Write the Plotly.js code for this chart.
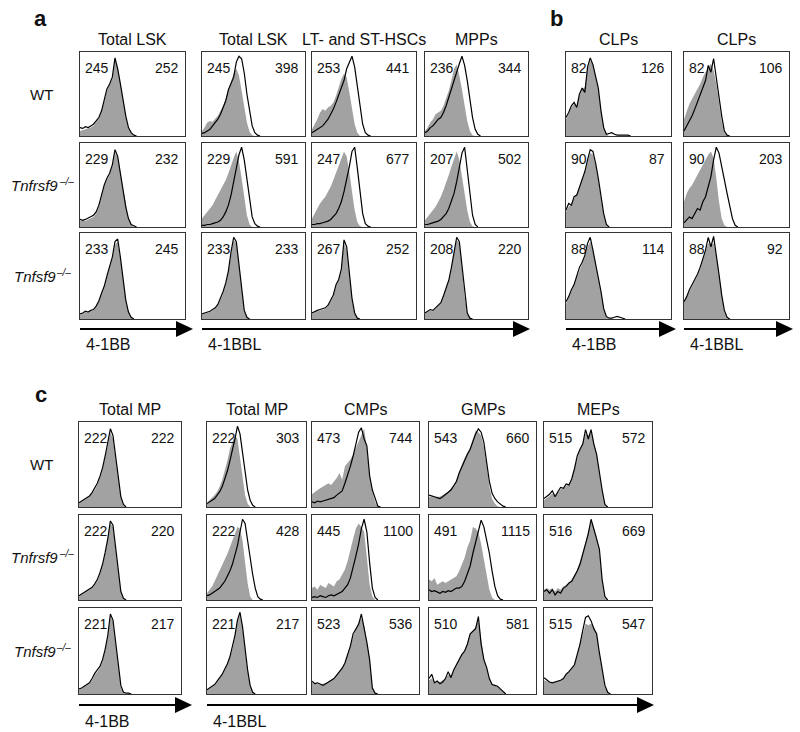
<!DOCTYPE html>
<html><head><meta charset="utf-8">
<script src="https://cdn.plot.ly/plotly-3.0.1.min.js"></script>
<style>html,body{margin:0;padding:0;background:#fff}#chart{width:800px;height:732px}</style>
</head><body><div id="chart"></div>
<script>
// ---------- categories / labels ----------
const rowLabels = ['WT', 'Tnfrsf9', 'Tnfsf9'];
const rowSuffix = ['', '–/–', '–/–'];
const rowItalic = [false, true, true];
const titlesA = ['Total LSK', 'Total LSK', 'LT- and ST-HSCs', 'MPPs'];
const titlesB = ['CLPs', 'CLPs'];
const titlesC = ['Total MP', 'Total MP', 'CMPs', 'GMPs', 'MEPs'];
const markerA = ['4-1BB', '4-1BBL'];
const markerB = ['4-1BB', '4-1BBL'];
const markerC = ['4-1BB', '4-1BBL'];

// ---------- MFI values (grey = control, black = stained) ----------
const mfiA_grey  = [[245,245,253,236],[229,229,247,207],[233,233,267,208]];
const mfiA_black = [[252,398,441,344],[232,591,677,502],[245,233,252,220]];
const mfiB_grey  = [[82,82],[90,90],[88,88]];
const mfiB_black = [[126,106],[87,203],[114,92]];
const mfiC_grey  = [[222,222,473,543,515],[222,222,445,491,516],[221,221,523,510,515]];
const mfiC_black = [[222,303,744,660,572],[220,428,1100,1115,669],[217,217,536,581,547]];

// ---------- histogram counts (% of max), one value per fluorescence bin ----------
// panel a
const a11g = [6,7,8,9,10,12,16,21,29,40,54,61,68,90,82,63,42,23,9,3,0];
const a11k = [10,9,11,10,12,14,18,22,30,42,56,62,70,93,80,62,42,24,10,4,1,0];
const a12g = [6,10,16,18,17,20,24,30,36,45,55,65,75,80,72,54,34,16,5,1,0];
const a12k = [3,4,6,8,12,16,20,26,34,42,55,62,70,88,95,92,75,50,28,12,4,1,0];
const a13g = [8,14,20,28,32,30,34,36,40,48,58,68,74,70,52,32,14,4,0];
const a13k = [4,6,8,10,12,16,20,26,32,40,48,56,66,80,88,95,82,60,34,14,4,1,0];
const a14g = [6,10,16,20,26,28,30,36,44,54,66,80,85,72,55,36,18,6,1,0];
const a14k = [4,6,10,12,16,20,22,28,36,46,56,66,78,86,95,84,66,44,22,8,2,0];
const a21g = [7,8,7,9,10,12,16,24,36,48,56,62,72,88,82,64,44,24,10,3,0];
const a21k = [9,8,9,11,12,14,18,26,38,50,58,64,74,92,84,66,44,24,10,3,1,0];
const a22g = [10,14,18,22,26,32,38,44,50,56,64,74,82,90,78,58,34,14,3,0];
const a22k = [2,2,3,3,4,5,6,8,12,18,26,38,52,70,86,95,80,55,30,12,4,1,0];
const a23g = [10,16,22,28,32,36,42,48,56,64,72,82,90,84,66,42,20,6,1,0];
const a23k = [3,3,4,4,5,6,7,9,12,16,22,30,42,56,72,90,95,70,40,16,4,1,0];
const a24g = [8,12,16,20,24,30,36,44,52,62,72,82,90,80,62,40,20,6,1,0];
const a24k = [3,3,4,5,6,7,9,12,16,22,30,40,54,72,88,95,70,38,14,3,0];
const a31g = [5,6,8,7,9,10,14,20,28,36,48,58,70,86,90,70,46,22,8,2,0];
const a31k = [6,7,9,8,10,11,15,21,30,38,50,60,72,90,93,72,46,22,8,2,0];
const a32g = [5,6,7,8,10,12,16,22,30,40,55,75,92,88,60,30,10,2,0];
const a32k = [6,7,8,9,11,13,17,24,32,42,56,78,95,90,62,32,10,2,0];
const a33g = [6,8,9,10,11,12,15,20,26,38,45,55,88,80,50,22,6,1,0];
const a33k = [7,9,10,11,12,13,16,22,28,40,46,58,92,84,52,24,7,1,0];
const a34g = [6,8,10,9,12,14,18,26,34,44,58,78,92,88,60,26,6,1,0];
const a34k = [7,9,11,10,13,15,19,27,35,45,60,80,95,90,62,28,7,1,0];
// panel b
const b11g = [20,26,34,38,36,48,56,58,80,90,86,70,55,30,10,2,0];
const b11k = [22,28,36,40,34,50,57,52,82,93,85,72,57,30,10,2,3,4,2,1,1,1,1,1,0];
const b12g = [20,30,38,44,50,56,62,70,76,82,86,78,62,40,18,4,0];
const b12k = [6,12,18,24,32,40,48,56,66,84,76,92,68,48,24,6,1,0];
const b21g = [18,24,28,34,40,48,56,64,78,88,86,74,56,36,14,2,0];
const b21k = [20,28,26,36,38,48,56,66,80,92,90,76,58,38,16,3,0];
const b22g = [30,40,46,50,56,62,68,74,80,86,90,82,58,30,10,2,0];
const b22k = [5,8,12,10,16,22,20,30,36,50,60,80,95,88,74,56,40,24,10,2,0];
const b31g = [18,24,32,40,48,58,64,72,84,90,80,64,50,32,12,3,0];
const b31k = [20,26,34,40,50,60,66,74,88,95,80,64,50,32,12,3,1,1,2,3,2,1,0];
const b32g = [20,26,32,38,44,50,58,68,78,88,86,88,74,50,26,8,1,0];
const b32k = [20,26,34,40,46,52,60,70,80,95,84,96,76,52,28,10,2,0];
// panel c
const c11g = [4,6,8,10,12,16,20,26,34,44,58,72,88,80,56,30,10,2,0];
const c11k = [5,7,9,11,13,17,22,28,36,46,60,74,92,84,58,32,12,3,0];
const c12g = [5,8,10,14,18,24,32,42,54,68,78,85,80,58,34,14,4,0];
const c12k = [4,6,8,10,14,18,24,32,42,54,66,80,95,86,64,40,20,8,2,0];
const c13g = [15,18,20,22,24,26,28,26,30,34,40,32,48,52,56,62,70,78,86,92,70,36,18,6,0];
const c13k = [6,5,7,6,7,8,9,10,11,14,16,19,28,37,48,60,74,88,93,80,72,37,20,10,1,0];
const c14g = [12,12,11,12,12,14,16,18,22,26,32,42,50,58,64,70,80,90,88,84,70,50,24,10,4,1,0];
const c14k = [14,13,12,11,10,12,15,18,20,25,30,40,48,55,62,68,78,86,92,88,76,55,30,16,10,6,3,1,0];
const c15g = [8,10,13,16,14,17,21,22,25,27,32,44,58,68,76,86,84,88,76,62,40,18,2,0];
const c15k = [10,12,15,19,12,18,23,22,27,26,33,45,60,68,74,91,80,91,74,62,40,20,3,0];
const c21g = [4,6,8,10,12,14,18,22,30,40,54,70,90,86,60,30,8,1,0];
const c21k = [5,7,9,11,13,15,19,24,32,42,56,72,93,88,62,32,10,2,0];
const c22g = [8,12,16,22,28,34,40,46,54,62,70,78,86,84,70,44,20,4,0];
const c22k = [5,6,8,10,12,14,18,22,28,34,42,52,64,80,95,90,72,50,30,14,4,1,0];
const c23g = [14,16,12,18,16,14,20,18,16,22,24,30,36,46,60,72,84,90,86,80,50,18,4,0];
const c23k = [3,4,3,5,4,3,5,6,5,7,8,10,14,18,26,38,52,66,84,95,80,44,14,3,0];
const c24g = [24,22,26,18,20,22,20,22,24,26,28,34,42,50,62,70,86,84,80,66,48,28,12,3,0];
const c24k = [12,10,11,9,8,10,9,11,10,12,14,14,16,22,30,40,55,68,82,94,86,72,55,34,16,5,1,0];
const c25g = [12,14,12,14,10,14,12,16,18,20,24,30,36,46,56,68,82,92,86,74,58,22,4,0];
const c25k = [10,12,8,12,6,10,8,14,16,20,22,28,34,42,54,64,78,95,82,72,60,24,4,0];
const c31g = [5,6,8,10,12,16,22,26,30,38,50,66,90,84,58,28,8,1,0];
const c31k = [6,7,9,11,13,18,24,28,32,40,52,68,93,86,60,30,10,2,1,1,0];
const c32g = [4,6,8,10,14,18,22,28,34,42,52,66,84,92,76,50,26,10,2,0];
const c32k = [5,7,9,11,15,19,23,29,35,43,54,68,86,95,78,52,28,10,2,0];
const c33g = [13,12,12,11,12,13,14,16,18,22,26,30,36,46,56,68,76,84,88,80,60,40,8,1,0];
const c33k = [15,12,13,11,10,12,14,16,18,22,26,30,36,46,56,70,76,81,93,77,60,40,7,1,0];
const c34g = [16,18,14,14,14,16,18,22,22,28,34,40,46,52,60,70,74,78,86,64,42,30,18,11,10,8,5,2,0];
const c34k = [18,23,13,15,12,14,18,26,19,28,34,40,46,50,58,70,73,76,90,58,40,31,18,11,10,9,6,3,0];
const c35g = [16,15,14,14,14,15,16,18,22,25,29,34,46,58,72,82,80,82,78,70,48,28,8,2,0];
const c35k = [19,16,14,13,14,15,16,18,23,26,30,34,46,58,74,89,91,85,76,70,48,30,10,2,0];

// ---------- grids ----------
const histA_grey  = [[a11g,a12g,a13g,a14g],[a21g,a22g,a23g,a24g],[a31g,a32g,a33g,a34g]];
const histA_black = [[a11k,a12k,a13k,a14k],[a21k,a22k,a23k,a24k],[a31k,a32k,a33k,a34k]];
const histB_grey  = [[b11g,b12g],[b21g,b22g],[b31g,b32g]];
const histB_black = [[b11k,b12k],[b21k,b22k],[b31k,b32k]];
const histC_grey  = [[c11g,c12g,c13g,c14g,c15g],[c21g,c22g,c23g,c24g,c25g],[c31g,c32g,c33g,c34g,c35g]];
const histC_black = [[c11k,c12k,c13k,c14k,c15k],[c21k,c22k,c23k,c24k,c25k],[c31k,c32k,c33k,c34k,c35k]];

// ---------- geometry (pixels) ----------
const W = 800, H = 732;
const px = v => v / W, py = v => 1 - v / H;
const FONT = 'Liberation Sans, Arial, sans-serif';
const NBINS = 40;
const ROWLABEL_SIZE = 15, SUFFIX_SIZE = 10;

const panels = [
  {cols: [[80,185],[202,305],[312,416],[425,528]], rows: [[52,136],[143,227],[233,319]],
   grey: histA_grey, black: histA_black, mg: mfiA_grey, mk: mfiA_black, titles: titlesA, titleY: 40,
   letter: 'a', letterXY: [40,19], rowLabels: true,
   arrows: [[80,193],[202,530]], arrowY: 329, labelY: 344, markers: markerA},
  {cols: [[566,671],[684,789]], rows: [[52,136],[143,227],[233,319]],
   grey: histB_grey, black: histB_black, mg: mfiB_grey, mk: mfiB_black, titles: titlesB, titleY: 40,
   letter: 'b', letterXY: [556,19], rowLabels: false,
   arrows: [[566,676],[684,793]], arrowY: 329, labelY: 344, markers: markerB},
  {cols: [[79,181],[207,306],[312,419],[429,536],[544,652]], rows: [[422,507],[515,600],[608,694]],
   grey: histC_grey, black: histC_black, mg: mfiC_grey, mk: mfiC_black, titles: titlesC, titleY: 410,
   letter: 'c', letterXY: [41,394], rowLabels: true,
   arrows: [[79,192],[207,654]], arrowY: 705, labelY: 721, markers: markerC}
];

// text width measurement for placing the genotype superscript
const ctx = document.createElement('canvas').getContext('2d');
const measure = (t, size, italic) => {
  ctx.font = (italic ? 'italic ' : '') + size + 'px "Liberation Sans", Arial, sans-serif';
  return ctx.measureText(t).width;
};

const traces = [];
const layout = {
  width: W, height: H, margin: {l:0, r:0, t:0, b:0},
  paper_bgcolor: '#fff', plot_bgcolor: '#fff', showlegend: false,
  font: {family: FONT, color: '#111'},
  annotations: [], shapes: []
};
const txt = (x, y, text, size, anchor, fontExtra) => ({
  xref: 'paper', yref: 'paper', x: px(x), y: py(y), text: text, showarrow: false,
  xanchor: anchor || 'center', yanchor: 'middle',
  font: Object.assign({family: FONT, size: size, color: '#111'}, fontExtra || {})
});

let k = 0;
panels.forEach(p => {
  p.rows.forEach((r, ri) => {
    p.cols.forEach((c, ci) => {
      k++;
      const xs = k === 1 ? '' : String(k);
      layout['xaxis' + xs] = {domain: [px(c[0]), px(c[1])], range: [0, NBINS - 1], anchor: 'y' + xs,
        showline: true, mirror: true, linecolor: '#333', linewidth: 1.2, showticklabels: false,
        ticks: '', showgrid: false, zeroline: false, fixedrange: true};
      layout['yaxis' + xs] = {domain: [py(r[1]), py(r[0])], range: [0, 100], anchor: 'x' + xs,
        showline: true, mirror: true, linecolor: '#333', linewidth: 1.2, showticklabels: false,
        ticks: '', showgrid: false, zeroline: false, fixedrange: true};
      const g = p.grey[ri][ci], b = p.black[ri][ci];
      traces.push({type: 'scatter', mode: 'lines', x: g.map((_, i) => i), y: g,
        fill: 'tozeroy', fillcolor: '#a2a2a2', line: {width: 0, color: '#a2a2a2'},
        xaxis: 'x' + xs, yaxis: 'y' + xs, hoverinfo: 'skip'});
      traces.push({type: 'scatter', mode: 'lines', x: b.map((_, i) => i), y: b,
        line: {width: 1.2, color: '#000'}, xaxis: 'x' + xs, yaxis: 'y' + xs, hoverinfo: 'skip'});
      layout.annotations.push(txt(c[0] + 3, r[0] + 16, String(p.mg[ri][ci]), 14, 'left'));
      layout.annotations.push(txt(c[1] - 4, r[0] + 16, String(p.mk[ri][ci]), 14, 'right'));
    });
  });
  p.cols.forEach((c, ci) => layout.annotations.push(txt((c[0] + c[1]) / 2, p.titleY, p.titles[ci], 16)));
  if (p.rowLabels) p.rows.forEach((r, ri) => {
    const yc = (r[0] + r[1]) / 2, it = rowItalic[ri] ? {style: 'italic'} : {};
    const wMain = measure(rowLabels[ri], ROWLABEL_SIZE, rowItalic[ri]);
    const wSuf = rowSuffix[ri] ? measure(rowSuffix[ri], SUFFIX_SIZE, rowItalic[ri]) + 1 : 0;
    const x0 = 40 - (wMain + wSuf) / 2;
    layout.annotations.push(txt(x0, yc, rowLabels[ri], ROWLABEL_SIZE, 'left', it));
    if (rowSuffix[ri]) layout.annotations.push(txt(x0 + wMain + 1, yc - 4, rowSuffix[ri], SUFFIX_SIZE, 'left', it));
  });
  layout.annotations.push(txt(p.letterXY[0], p.letterXY[1], p.letter, 22, 'center', {weight: 'bold'}));
  p.arrows.forEach((a, ai) => {
    const y = p.arrowY, hl = 17, hh = 8;
    layout.shapes.push({type: 'line', xref: 'paper', yref: 'paper', x0: px(a[0]), x1: px(a[1] - hl + 1),
      y0: py(y), y1: py(y), line: {color: '#000', width: 2}});
    layout.shapes.push({type: 'path', xref: 'paper', yref: 'paper',
      path: `M ${px(a[1] - hl)} ${py(y - hh)} L ${px(a[1])} ${py(y)} L ${px(a[1] - hl)} ${py(y + hh)} Z`,
      fillcolor: '#000', line: {color: '#000', width: 0}});
    layout.annotations.push(txt(a[0] + 4, p.labelY, p.markers[ai], 16, 'left'));
  });
});

Plotly.newPlot('chart', traces, layout, {staticPlot: true, displayModeBar: false});
</script></body></html>
